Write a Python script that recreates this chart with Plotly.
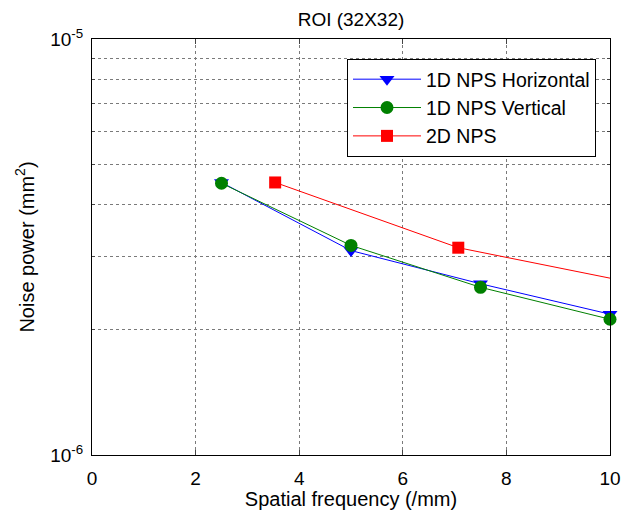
import plotly.graph_objects as go

freq_1d = [2.5, 5.0, 7.5, 10.0]
nps_horizontal = [4.52e-6, 3.10e-6, 2.58e-6, 2.18e-6]
nps_vertical = [4.50e-6, 3.19e-6, 2.53e-6, 2.12e-6]
freq_2d = [3.536, 7.071, 10.607]
nps_2d = [4.52e-6, 3.15e-6, 2.57e-6]

x_ticks = [0, 2, 4, 6, 8, 10]
y_major = [1e-6, 1e-5]
y_major_text = ["10<sup>-6</sup>", "10<sup>-5</sup>"]
y_minor = [k * 1e-6 for k in range(2, 10)]

FONT = "Liberation Sans, Arial, sans-serif"
GRID = "#7a7a7a"

fig = go.Figure()
fig.add_trace(go.Scatter(
    x=freq_1d, y=nps_horizontal, mode="lines+markers", name="1D NPS Horizontal",
    line=dict(color="#0000FF", width=1),
    marker=dict(symbol="triangle-down", size=13, color="#0000FF"),
    cliponaxis=False))
fig.add_trace(go.Scatter(
    x=freq_1d, y=nps_vertical, mode="lines+markers", name="1D NPS Vertical",
    line=dict(color="#008000", width=1),
    marker=dict(symbol="circle", size=13, color="#008000"),
    cliponaxis=False))
fig.add_trace(go.Scatter(
    x=freq_2d, y=nps_2d, mode="lines+markers", name="2D NPS",
    line=dict(color="#FF0000", width=1),
    marker=dict(symbol="square", size=12, color="#FF0000"),
    cliponaxis=True))

fig.update_layout(
    width=633, height=510,
    margin=dict(l=92, r=23, t=39, b=55),
    paper_bgcolor="white", plot_bgcolor="white",
    font=dict(family=FONT, size=19, color="black"),
    title=dict(text="ROI (32X32)", x=0.5, xref="paper", xanchor="center",
               y=1 - 19 / 510, yanchor="middle", font=dict(size=19)),
    legend=dict(x=(347 - 92) / 518, y=(455 - 59) / 416, xanchor="left", yanchor="top",
                bgcolor="white", bordercolor="black", borderwidth=1,
                font=dict(size=19.5), tracegroupgap=0, itemwidth=68),
    showlegend=True,
)
fig.update_xaxes(
    range=[0, 10], tickvals=x_ticks, ticks="inside", ticklen=5,
    showline=True, linecolor="black", linewidth=1, mirror="ticks",
    showgrid=True, gridcolor=GRID, griddash="dot", gridwidth=1,
    zeroline=False, tickfont=dict(size=19), ticklabelstandoff=6,
    automargin=False,
    title=dict(text="Spatial frequency (/mm)", font=dict(size=20), standoff=2),
)
fig.update_yaxes(
    type="log", range=[-6, -5], tickvals=y_major, ticktext=y_major_text,
    ticks="inside", ticklen=5,
    showline=True, linecolor="black", linewidth=1, mirror="ticks",
    showgrid=True, gridcolor=GRID, griddash="dot", gridwidth=1,
    minor=dict(tickvals=y_minor, ticks="inside", ticklen=3, showgrid=True,
               gridcolor=GRID, griddash="dot", gridwidth=1),
    zeroline=False, tickfont=dict(size=19), ticklabelstandoff=4,
    automargin=False,
    title=dict(text="Noise power (mm<sup>2</sup>)", font=dict(size=20), standoff=10),
)

fig.write_html("out.html")
